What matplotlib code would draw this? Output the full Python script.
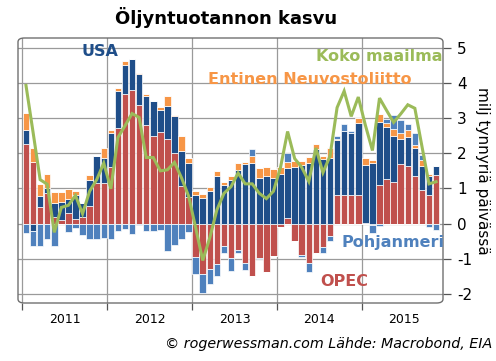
import numpy as np
import matplotlib
matplotlib.use("Agg")
import matplotlib.pyplot as plt
from matplotlib.patches import FancyBboxPatch

# Monthly data Jan 2011 - Nov 2015 (million barrels per day, y/y change)
opec = [2.27, 1.74, 0.48, 0.88, 0.20, 0.10, 0.29, 0.13, 0.20, 0.50, 1.16, 1.16,
        1.60, 2.72, 3.69, 3.81, 3.36, 2.80, 2.48, 2.60, 2.40, 2.00, 1.06, 0.75,
        -0.96, -1.44, -1.30, -1.15, -0.64, -0.99, -0.74, -1.12, -1.50, -0.99, -1.39, -0.93,
        -0.10, 0.17, -0.50, -0.90, -1.11, -0.84, -0.68, -0.35, 0.82, 0.81, 0.81, 0.82,
        0.03, -0.05, 1.10, 1.28, 1.19, 1.70, 1.64, 1.36, 0.96, 0.82, 1.38]
usa = [0.39, -0.21, 0.31, 0.12, 0.38, 0.50, 0.40, 0.69, 0.38, 0.74, 0.76, 0.70,
       0.98, 1.04, 0.83, 0.88, 0.90, 0.84, 1.02, 0.64, 0.95, 1.07, 1.00, 0.97,
       0.80, 0.73, 0.94, 1.35, 1.11, 1.23, 1.52, 1.70, 1.72, 1.30, 1.36, 1.29,
       1.41, 1.42, 1.60, 1.68, 1.72, 2.11, 1.85, 1.86, 1.56, 1.83, 1.76, 2.03,
       1.64, 1.72, 1.79, 1.46, 1.30, 0.70, 0.83, 0.78, 0.68, 0.52, 0.25]
fsu = [0.50, 0.42, 0.34, 0.41, 0.33, 0.30, 0.30, 0.10, 0.00, 0.15, 0.00, 0.28,
       0.07, 0.10, 0.11, 0.00, 0.02, 0.05, 0.00, 0.07, 0.28, 0.03, 0.42, 0.15,
       0.14, 0.12, 0.11, 0.15, 0.07, 0.12, 0.21, 0.05, 0.20, 0.28, 0.26, 0.26,
       0.19, 0.17, 0.18, 0.10, 0.17, 0.16, 0.07, 0.28, 0.02, 0.00, 0.00, 0.15,
       0.20, 0.10, 0.22, 0.13, 0.19, 0.17, 0.20, 0.10, 0.17, 0.06, 0.00]
north_sea = [-0.27, -0.42, -0.65, -0.43, -0.65, -0.02, -0.23, -0.13, -0.32, -0.43, -0.43, -0.40,
             -0.43, -0.20, -0.15, -0.29, -0.05, -0.20, -0.22, -0.17, -0.77, -0.60, -0.45, -0.25,
             -0.47, -0.54, -0.43, -0.35, -0.19, -0.36, -0.10, -0.20, 0.19, -0.03, 0.00, 0.00,
             0.00, 0.24, 0.00, -0.05, -0.27, 0.00, -0.15, -0.14, 0.09, 0.20, 0.06, 0.00,
             0.00, -0.22, -0.07, 0.10, 0.41, 0.38, 0.16, 0.35, 0.14, -0.10, -0.19]
world = [3.93, 2.60, 1.25, 1.12, -0.25, 0.46, 0.52, 0.80, 0.28, 0.92, 1.25, 1.72,
         0.99, 2.45, 2.78, 3.13, 3.02, 1.88, 1.88, 1.50, 1.53, 1.74, 1.30, 0.78,
         -0.12, -1.05, -0.40, 0.39, 0.86, 1.05, 1.44, 1.13, 1.13, 0.86, 0.71, 0.92,
         1.60, 2.62, 1.85, 1.60, 1.20, 2.15, 1.45, 1.92, 3.30, 3.77, 3.05, 3.60,
         2.80, 2.08, 3.57, 3.22, 2.88, 3.12, 3.38, 3.28, 2.20, 1.13, 1.19]
years = ["2011", "2012", "2013", "2014", "2015"]

series = [(opec, "#C0504D"), (usa, "#1F4E89"), (fsu, "#F79646"), (north_sea, "#4F81BD")]

fig = plt.figure(figsize=(4.96, 3.61), dpi=100)
ax = fig.add_axes([18/496, 1-303/361, (443-18)/496, (303-38)/361])

x = np.arange(len(opec))
pos_bottom = np.zeros(len(x))
neg_bottom = np.zeros(len(x))
for vals, col in series:
    v = np.array(vals, dtype=float)
    p = np.where(v > 0, v, 0)
    n = np.where(v < 0, v, 0)
    ax.bar(x, p, bottom=pos_bottom, width=0.92, color=col, edgecolor="white", linewidth=0.5, zorder=3)
    ax.bar(x, n, bottom=neg_bottom, width=0.92, color=col, edgecolor="white", linewidth=0.5, zorder=3)
    pos_bottom += p
    neg_bottom += n

ax.plot(x, world, color="#9BBB59", linewidth=2.2, zorder=4, solid_joinstyle="miter")

ax.set_xlim(-1.13, 58.98)
ax.set_ylim(-2.26, 5.28)

# grid
for yv in range(-2, 6):
    ax.axhline(yv, color="#9a9a9a", linewidth=0.9, zorder=1)
for k in range(5):
    ax.axvline(-0.5 + 12 * k, color="#9a9a9a", linewidth=0.9, zorder=1)

for s in ax.spines.values():
    s.set_visible(False)
frame = FancyBboxPatch((0, 0), 1, 1, boxstyle="round,pad=0,rounding_size=0.015",
                       transform=ax.transAxes, fill=False, edgecolor="#707070",
                       linewidth=1.0, zorder=5, clip_on=False)
ax.add_patch(frame)

ax.yaxis.tick_right()
ax.set_yticks(range(-2, 6))
ax.set_yticklabels([str(v) for v in range(-2, 6)], fontsize=11)
ax.tick_params(axis="y", direction="out", length=6, width=0.9, color="#555555", pad=4)
ax.set_xticks([-0.5 + 12 * k for k in range(5)])
ax.set_xticklabels([])
ax.tick_params(axis="x", direction="out", length=5, width=0.9, color="#555555")
for k, yr in enumerate(years):
    ax.text(5.5 + 12 * k, -2.72, yr, ha="center", va="center", fontsize=9)

ax.yaxis.set_label_position("right")
ax.set_ylabel("milj tynnyriä päivässä", rotation=270, fontsize=11, labelpad=13)

bold = dict(fontweight="bold", fontsize=11.5, ha="center", va="center", zorder=6)
ax.text(10.5, 4.89, "USA", color="#1F4E89", **bold)
ax.text(49.9, 4.74, "Koko maailma", color="#9BBB59", **bold)
ax.text(40.2, 4.09, "Entinen Neuvostoliitto", color="#F79646", **bold)
ax.text(51.9, -0.54, "Pohjanmeri", color="#4F81BD", **bold)
ax.text(45.0, -1.65, "OPEC", color="#C0504D", **bold)

fig.text(0.455, 1-18/361, "Öljyntuotannon kasvu", ha="center", va="center",
         fontsize=13, fontweight="bold")
fig.text(0.992, 1-344/361, "© rogerwessman.com Lähde: Macrobond, EIA", ha="right",
         va="center", fontsize=10.3, style="italic")

fig.savefig("out.png", dpi=100)
